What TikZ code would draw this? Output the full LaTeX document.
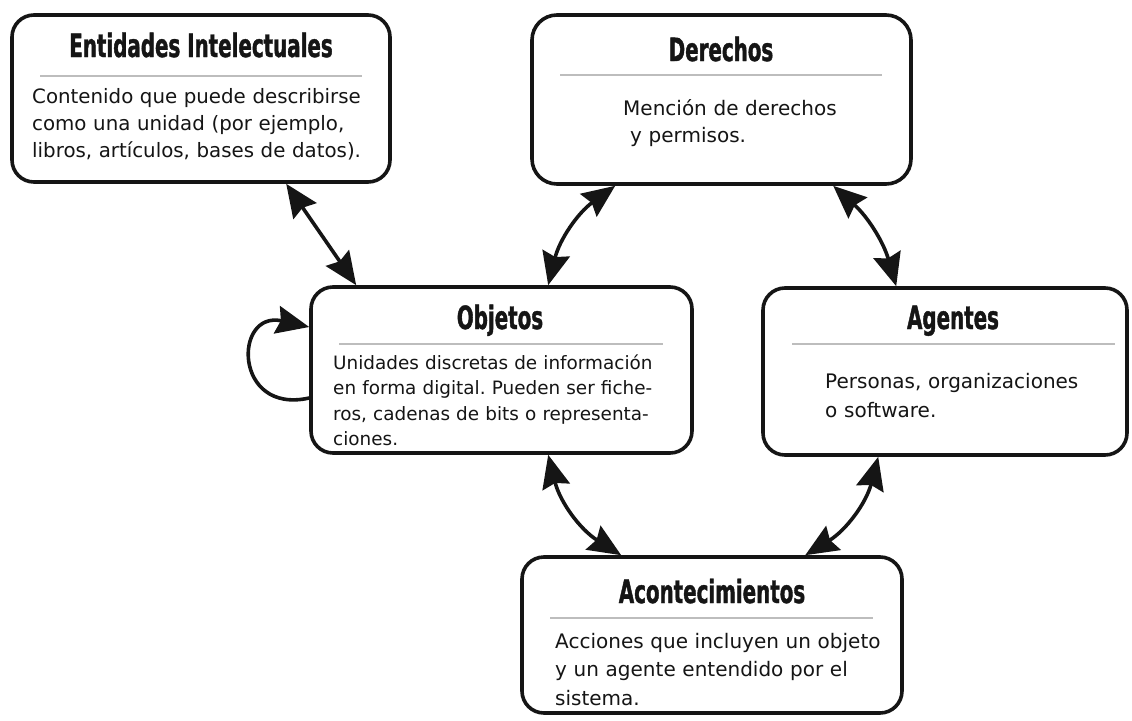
\documentclass[tikz,border=0pt]{standalone}
\usepackage{fontspec}
\setmainfont{DejaVu Sans}
\newfontfamily\titlefont[FakeStretch=0.62,FakeBold=1.2]{DejaVu Sans}
\usetikzlibrary{arrows.meta,calc}
\definecolor{ink}{HTML}{151515}
\definecolor{sepgray}{HTML}{BDBDBD}
\tikzset{
  box/.style={draw=ink, line width=3.6pt, rounded corners=22pt, fill=white, inner sep=0pt},
  title/.style={anchor=base, inner sep=0pt, text=ink, font=\titlefont\bfseries\fontsize{32}{32}\selectfont},
  body/.style={anchor=base west, inner sep=0pt, text width=380pt, align=left, text=ink},
  sepline/.style={draw=sepgray, line width=1.4pt},
  bighead/.tip={Stealth[length=33pt,width=28pt,inset=4pt]},
  link/.style={draw=ink, line width=3.6pt, bighead-bighead},
  selfloop/.style={draw=ink, line width=3.6pt, -bighead}
}
\begin{document}
\frenchspacing
\begin{tikzpicture}[x=1pt, y=-1pt]
\useasboundingbox (0,0) rectangle (1132,720);
% boxes
\node[box, minimum width=378pt, minimum height=167pt] (ent) at (201,98.5) {};
\node[box, minimum width=379pt, minimum height=169pt, rounded corners=25pt] (der) at (721.5,99.5) {};
\node[box, minimum width=381pt, minimum height=166pt] (obj) at (501.5,370) {};
\node[box, minimum width=364pt, minimum height=167pt] (age) at (945,371.5) {};
\node[box, minimum width=380pt, minimum height=156pt] (aco) at (712,635) {};
% titles
\node[title] (entt) at (201,57) {Entidades Intelectuales};
\node[title] (dert) at (721,61) {Derechos};
\node[title] (objt) at (500,329) {Objetos};
\node[title] (aget) at (953,329) {Agentes};
\node[title] (acot) at (712,603) {Acontecimientos};
% separators
\draw[sepline] (40,76) -- (362,76);
\draw[sepline] (560,75) -- (882,75);
\draw[sepline] (339,344) -- (663,344);
\draw[sepline] (792,344) -- (1115,344);
\draw[sepline] (550,618) -- (873,618);
% bodies
\node[body, font=\fontsize{19.8}{27}\selectfont] (entb) at (32,103)
  {Contenido que puede describirse\\como una unidad (por ejemplo,\\libros, artículos, bases de datos).};
\node[body, font=\fontsize{20}{27}\selectfont] (derb) at (623,115)
  {Mención de derechos\\\hspace*{7pt}y permisos.};
\node[body, font=\fontsize{18.4}{25.5}\selectfont] (objb) at (333,369)
  {Unidades discretas de información\\en forma digital. Pueden ser fiche-\\ros, cadenas de bits o representa-\\ciones.};
\node[body, font=\fontsize{20}{29}\selectfont] (ageb) at (825,388)
  {Personas, organizaciones\\o software.};
\node[body, font=\fontsize{20}{28.5}\selectfont] (acob) at (555,648)
  {Acciones que incluyen un objeto\\y un agente entendido por el\\sistema.};
% connectors
\draw[link] ($(ent.south west)+(276,0)$) -- ($(obj.north west)+(47,0)$);
\draw[link] ($(obj.north west)+(239,0)$) to[bend left=20] ($(der.south west)+(85,0)$);
\draw[link] ($(der.south west)+(303,0)$) to[bend left=16] ($(age.north west)+(135,0)$);
\draw[link] ($(obj.south west)+(239,0)$) to[bend right=22] ($(aco.north west)+(101,0)$);
\draw[link] ($(age.south west)+(117,0)$) to[bend left=22] ($(aco.north west)+(285,0)$);
\draw[selfloop] ($(obj.west)+(0,28)$) .. controls +(-76,17) and +(-76,-17) .. ($(obj.west)+(0,-43)$);
\end{tikzpicture}
\end{document}
